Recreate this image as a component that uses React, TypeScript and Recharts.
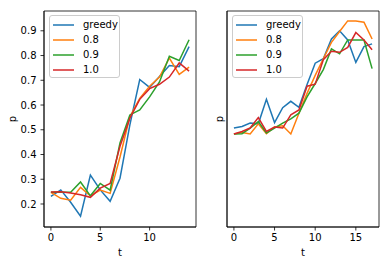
import { Legend, Line, LineChart, ReferenceArea, XAxis, YAxis } from "recharts";

// left panel: t = 0..14
const tLeft = [0, 1, 2, 3, 4, 5, 6, 7, 8, 9, 10, 11, 12, 13, 14];
const greedyLeft = [0.231, 0.257, 0.207, 0.151, 0.317, 0.257, 0.211, 0.304, 0.52, 0.703, 0.671, 0.715, 0.76, 0.755, 0.836];
const p08Left = [0.247, 0.223, 0.215, 0.267, 0.233, 0.256, 0.243, 0.39, 0.553, 0.627, 0.676, 0.713, 0.79, 0.724, 0.753];
const p09Left = [0.247, 0.247, 0.247, 0.289, 0.233, 0.283, 0.256, 0.447, 0.56, 0.58, 0.633, 0.693, 0.797, 0.78, 0.864];
const p10Left = [0.248, 0.249, 0.244, 0.237, 0.227, 0.264, 0.283, 0.433, 0.547, 0.623, 0.666, 0.684, 0.713, 0.77, 0.737];

// right panel: t = 0..17
const tRight = [0, 1, 2, 3, 4, 5, 6, 7, 8, 9, 10, 11, 12, 13, 14, 15, 16, 17];
const greedyRight = [0.507, 0.513, 0.527, 0.524, 0.623, 0.529, 0.589, 0.615, 0.591, 0.683, 0.769, 0.787, 0.867, 0.9, 0.863, 0.772, 0.836, 0.847];
const p08Right = [0.483, 0.489, 0.483, 0.524, 0.484, 0.511, 0.516, 0.483, 0.567, 0.647, 0.72, 0.787, 0.853, 0.897, 0.94, 0.94, 0.935, 0.867];
const p09Right = [0.483, 0.484, 0.507, 0.533, 0.487, 0.507, 0.527, 0.544, 0.567, 0.633, 0.687, 0.743, 0.827, 0.807, 0.863, 0.863, 0.863, 0.747];
const p10Right = [0.483, 0.493, 0.507, 0.549, 0.493, 0.511, 0.507, 0.56, 0.58, 0.676, 0.684, 0.783, 0.817, 0.813, 0.833, 0.893, 0.863, 0.823];

const yTicks = [0.2, 0.3, 0.4, 0.5, 0.6, 0.7, 0.8, 0.9];
const yDomain = [0.107, 0.98];

const FONT = "'DejaVu Sans', sans-serif";
const COLORS = ["#1f77b4", "#ff7f0e", "#2ca02c", "#d62728"];
const NAMES = ["greedy", "0.8", "0.9", "1.0"];

function toRows(t: number[], series: number[][]) {
  return t.map((x, i) => ({ t: x, s0: series[0][i], s1: series[1][i], s2: series[2][i], s3: series[3][i] }));
}

function BoxLegend({ payload }: any) {
  // keep the plotting order, not alphabetical
  const items = [...(payload || [])].sort((a: any, b: any) => NAMES.indexOf(a.value) - NAMES.indexOf(b.value));
  return (
    <div
      style={{
        width: 71,
        height: 63,
        boxSizing: "border-box",
        border: "1px solid #cccccc",
        borderRadius: 3,
        background: "rgba(255,255,255,0.8)",
        padding: "2px 0 0 3px",
        fontFamily: FONT,
        fontSize: 10,
        color: "#000",
      }}
    >
      {items.map((e: any) => (
        <div key={e.value} style={{ display: "flex", alignItems: "center", height: 14.9 }}>
          <svg width={21} height={4} style={{ display: "block" }}>
            <line x1={0} x2={21} y1={2} y2={2} stroke={e.color} strokeWidth={1.5} />
          </svg>
          <span style={{ marginLeft: 9, lineHeight: "12px" }}>{e.value}</span>
        </div>
      ))}
    </div>
  );
}

type PanelProps = {
  left: number;
  width: number;
  yAxisWidth: number;
  rightMargin: number;
  rows: any[];
  xDomain: number[];
  xTicks: number[];
  showYLabels: boolean;
  pOffset: number;
  legendLeft: number;
};

function Panel(p: PanelProps) {
  const axisStyle = { fontSize: 10, fill: "#000", fontFamily: FONT };
  return (
    <div style={{ position: "absolute", left: p.left, top: 0 }}>
      <LineChart width={p.width} height={266} data={p.rows} margin={{ top: 11, right: p.rightMargin, bottom: 0, left: 0 }}>
        <XAxis
          dataKey="t"
          type="number"
          domain={p.xDomain}
          ticks={p.xTicks}
          allowDataOverflow
          height={39}
          stroke="#000"
          strokeWidth={0.8}
          tickSize={3.5}
          tickMargin={3}
          tick={axisStyle}
          label={{ value: "t", position: "insideBottom", offset: 10, style: { fontSize: 10, fill: "#000", fontFamily: FONT } }}
        />
        <YAxis
          type="number"
          domain={yDomain}
          ticks={yTicks}
          allowDataOverflow
          width={p.yAxisWidth}
          stroke="#000"
          strokeWidth={0.8}
          tickSize={3.5}
          tickMargin={4}
          tick={p.showYLabels ? axisStyle : false}
          tickFormatter={(v: number) => v.toFixed(1)}
          label={{
            value: "p",
            angle: -90,
            position: "insideLeft",
            offset: p.pOffset,
            style: { fontSize: 10, fill: "#000", fontFamily: FONT, textAnchor: "middle" },
          }}
        />
        {/* axes frame (matplotlib spines) */}
        <ReferenceArea
          x1={p.xDomain[0]}
          x2={p.xDomain[1]}
          y1={yDomain[0]}
          y2={yDomain[1]}
          fill="none"
          fillOpacity={0}
          stroke="#000"
          strokeWidth={0.8}
          ifOverflow="visible"
        />
        {[0, 1, 2, 3].map((i) => (
          <Line
            key={i}
            type="linear"
            dataKey={`s${i}`}
            name={NAMES[i]}
            stroke={COLORS[i]}
            strokeWidth={1.5}
            dot={false}
            isAnimationActive={false}
          />
        ))}
        <Legend
          layout="vertical"
          align="center"
          verticalAlign="middle"
          content={<BoxLegend />}
          wrapperStyle={{ left: p.legendLeft, top: 15, width: 71, height: 63 }}
        />
      </LineChart>
    </div>
  );
}

export default function App() {
  const leftRows = toRows(tLeft, [greedyLeft, p08Left, p09Left, p10Left]);
  const rightRows = toRows(tRight, [greedyRight, p08Right, p09Right, p10Right]);
  return (
    <div style={{ position: "absolute", left: 0, top: 0, width: 389, height: 266, background: "#fff", fontFamily: FONT }}>
      <Panel
        left={0}
        width={200}
        yAxisWidth={44}
        rightMargin={4}
        rows={leftRows}
        xDomain={[-0.7, 14.7]}
        xTicks={[0, 5, 10]}
        showYLabels
        pOffset={12}
        legendLeft={49}
      />
      <Panel
        left={200}
        width={189}
        yAxisWidth={27}
        rightMargin={10}
        rows={rightRows}
        xDomain={[-0.85, 17.85]}
        xTicks={[0, 5, 10, 15]}
        showYLabels={false}
        pOffset={19}
        legendLeft={32}
      />
    </div>
  );
}
